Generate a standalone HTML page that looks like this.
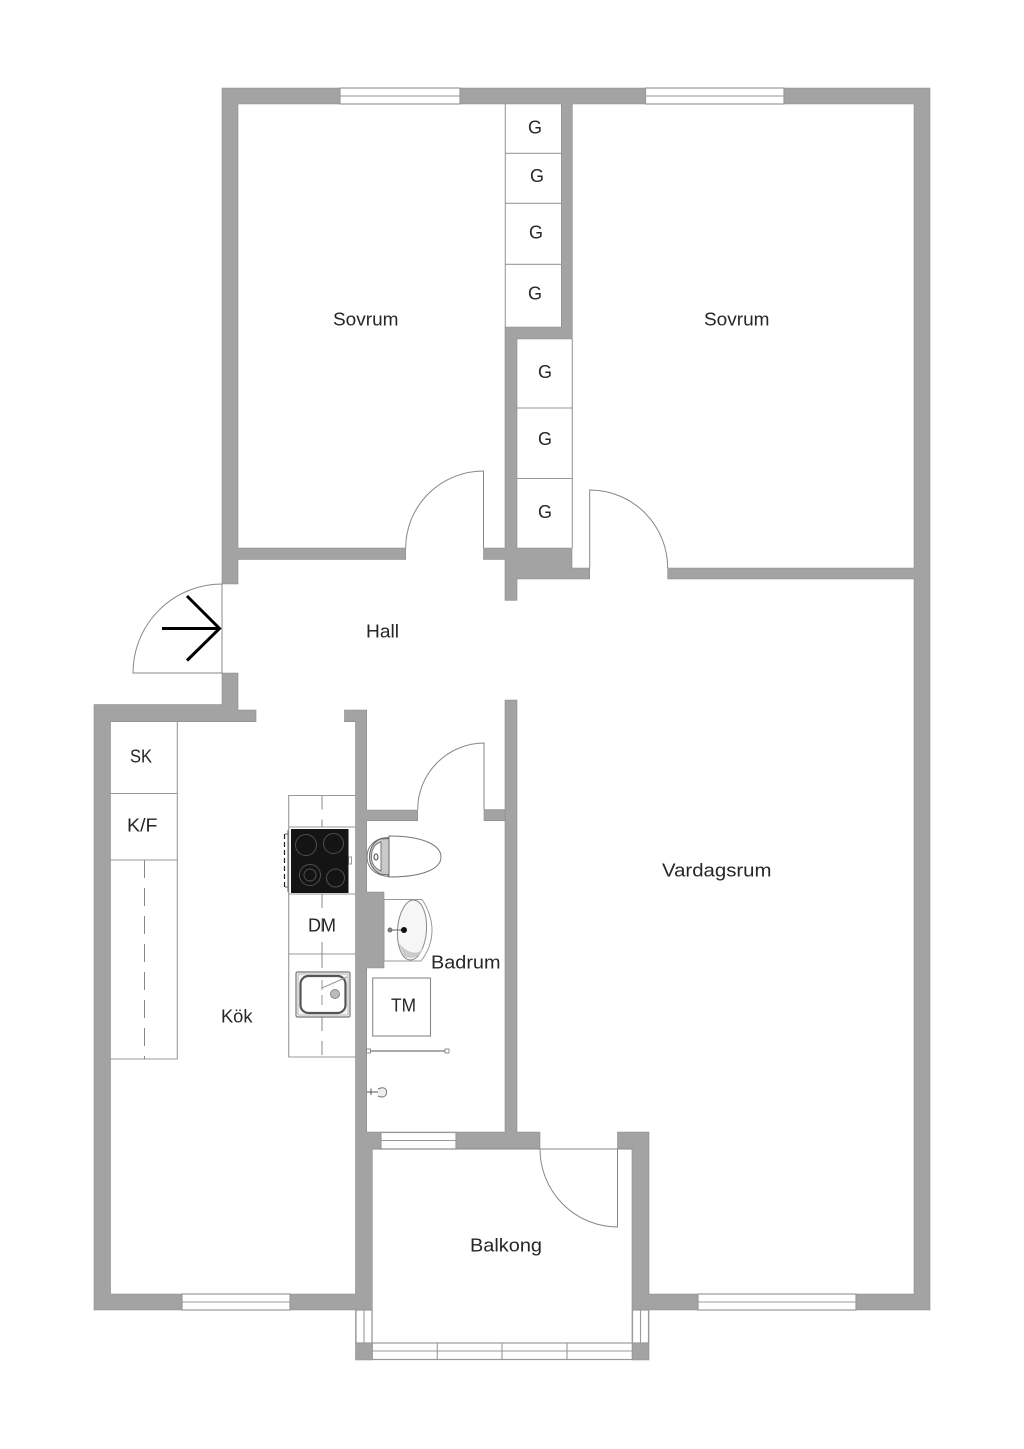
<!DOCTYPE html>
<html><head><meta charset="utf-8"><style>
html,body{margin:0;padding:0;background:#fff}
svg{display:block}
text{font-family:"Liberation Sans",sans-serif;font-size:18px;fill:#262626}
.w{fill:#a3a3a3;stroke:#8c8c8c;stroke-width:.6}
.l{fill:none;stroke:#999;stroke-width:1.1}
.d{fill:none;stroke:#888;stroke-width:1}
.win{fill:#fff;stroke:#999;stroke-width:1.2}
</style></head><body>
<svg xmlns="http://www.w3.org/2000/svg" width="1024" height="1449" viewBox="0 0 1024 1449">
<rect width="1024" height="1449" fill="#fff"/>

<!-- walls -->
<path class="w" d="M222 88H930V1310H856V1294H914V579H667.7V568H914V104H572.3V339H517V548H572V568H589.7V579H517V600.3H505V559.5H483.5V548H505V327H561.3V104H238V548H405.7V559.5H238V584H222Z"/>
<path class="w" d="M222 673H238V710H256V721.7H110.5V1294H182V1310H94V704.5H222Z"/>
<path class="w" d="M344.5 710H366.7V810H417.7V820.7H366.7V892H384V968H366.7V1132H505V700H517V1132H540V1149H372.3V1360H355.5V1310H290V1294H355.5V721.7H344.5Z"/>
<path class="w" d="M484 809.5H505V820.7H484Z"/>
<path class="w" d="M617.5 1132H649V1294H698V1310H649V1360H632V1149H617.5Z"/>

<!-- windows -->
<g class="win">
<rect x="340" y="88" width="120" height="16"/><rect x="645.5" y="88" width="138.5" height="16"/>
<rect x="182" y="1294" width="108" height="16"/><rect x="698" y="1294" width="158" height="16"/>
<rect x="381" y="1132.5" width="75" height="16.5"/>
<rect x="356" y="1310" width="16" height="33"/><rect x="632.5" y="1310" width="16" height="33"/>
<rect x="372.3" y="1343" width="260" height="16.5"/>
</g>
<path class="l" d="M340 96H460M645.5 96H784M182 1302H290M698 1302H856M381 1140.5H456M364 1310V1343M640.5 1310V1343M372.3 1351H632M437.3 1343V1359.5M502 1343V1359.5M567 1343V1359.5"/>

<!-- closets -->
<path class="l" d="M505.3 104V327M505.5 153.3H561.3M505.5 203.3H561.3M505.5 264.3H561.3M572.3 339V548M517 408H572M517 478.5H572"/>

<!-- doors -->
<path class="d" d="M483.5 548V471A78 77 0 0 0 405.7 548M589.7 568V490A78 78 0 0 1 667.7 568M484 809.5V743A67 66.5 0 0 0 417.7 809.5M222 584V673H133A89 89 0 0 1 222 584M372.3 1149H632M540 1149A78 78 0 0 0 617.5 1227V1149"/>

<!-- entrance arrow -->
<path d="M162 628.5H219M187 596L219.5 628.5L187 660.5" fill="none" stroke="#000" stroke-width="3"/>

<!-- kitchen storage -->
<path class="l" d="M177.3 721.7V1059H110.5M110.5 793.5H177.3M110.5 860H177.3"/>
<path class="d" d="M144.5 860V1059" stroke-dasharray="18 10"/>

<!-- counter -->
<path class="l" d="M355.5 795.5H288.7V1057H355.5M288.7 827H355.5M288.7 894H355.5M288.7 954H355.5"/>
<path class="d" d="M322 795.5V827M322 894V954" stroke-dasharray="14 10"/>
<path class="d" d="M322 954V972M322 1017V1057" stroke-dasharray="14 10"/>

<!-- stove -->
<path d="M285 834H288V887H285M288 830V892" fill="none" stroke="#666" stroke-width="1"/>
<path d="M284.5 834V888" stroke="#222" stroke-width="1.2" stroke-dasharray="5 3"/>
<rect x="348.5" y="857" width="3" height="7" fill="#fff" stroke="#999"/>
<rect x="291" y="829" width="57.5" height="64" fill="#141414"/>
<g fill="none" stroke="#4e4e4e" stroke-width="1">
<circle cx="306" cy="845" r="10.5"/><circle cx="333.5" cy="843.5" r="10"/>
<circle cx="310" cy="875" r="10.5"/><circle cx="310" cy="875" r="6"/><circle cx="335.5" cy="878" r="9"/>
</g>

<!-- sink -->
<rect x="296" y="972" width="54" height="45" rx="1.5" fill="#f4f4f4" stroke="#777" stroke-width="1.2"/>
<rect x="298" y="974" width="50" height="41" rx="1" fill="none" stroke="#aaa" stroke-width=".8"/>
<rect x="300.5" y="976" width="45" height="37" rx="8" fill="#fff" stroke="#555" stroke-width="2.2"/>
<path d="M322 988L347 977" stroke="#999" stroke-width="1"/>
<path d="M322 980V1010" stroke="#999" stroke-width="1" stroke-dasharray="10 5"/>
<circle cx="335" cy="994" r="4.5" fill="#bbb" stroke="#888"/>

<!-- toilet -->
<path d="M389 836C425 836 441 846 441 857C441 868 425 877 389 877Z" fill="#fff" stroke="#777"/>
<path d="M388 837.5C375 838 367 846 367 857C367 868 375 875 388 876.5Z" fill="#fff" stroke="#777"/>
<path d="M389 838.5L380 839C373 842 369.5 849 369.5 857C369.5 864 373 870 380 874L389 875Z" fill="#c9c9c9" stroke="#666"/>
<path d="M381 842C374 844 371.5 850 371.5 857C371.5 863 374 868 381 871Z" fill="#fff" stroke="#777"/>
<ellipse cx="376" cy="857" rx="2" ry="3" fill="#fff" stroke="#444"/>

<!-- basin -->
<path d="M384 899.5H422C428 908 432 920 432 930C432 941 428 952 421 961H384Z" fill="#fff" stroke="#999"/>
<ellipse cx="412" cy="930" rx="14.5" ry="30" transform="rotate(4 412 930)" fill="#f6f6f6" stroke="#888"/>
<path d="M398 942C404 950 416 958 423 948C420 958 410 960 404 956Z" fill="#ccc"/>
<path d="M390 930H404" stroke="#777" stroke-width="1.2"/>
<circle cx="390" cy="930" r="2.5" fill="#777"/><circle cx="404" cy="930" r="3" fill="#111"/>

<!-- TM -->
<rect x="372.7" y="978" width="57.8" height="58" fill="#fff" stroke="#888" stroke-width="1.1"/>

<!-- shower rail -->
<path d="M368 1051H446" stroke="#777" stroke-width="1.3"/>
<rect x="366.5" y="1049" width="4" height="4" fill="#fff" stroke="#777" stroke-width=".8"/>
<rect x="445" y="1049" width="4" height="4" fill="#fff" stroke="#777" stroke-width=".8"/>

<!-- shower head -->
<path d="M367 1092H381M371 1088.5V1095" stroke="#555" stroke-width="1"/>
<path d="M378 1089C384 1086 387 1089 386.5 1093C386 1097 382 1098 378 1096" fill="#eee" stroke="#777"/>

<!-- labels -->
<text x="333" y="325.5" textLength="65.5" lengthAdjust="spacingAndGlyphs">Sovrum</text>
<text x="704" y="325.5" textLength="65.5" lengthAdjust="spacingAndGlyphs">Sovrum</text>
<text x="366" y="637.5" textLength="33" lengthAdjust="spacingAndGlyphs">Hall</text>
<text x="662" y="876.5" textLength="109.5" lengthAdjust="spacingAndGlyphs">Vardagsrum</text>
<text x="221" y="1022.5" textLength="31.5" lengthAdjust="spacingAndGlyphs">Kök</text>
<text x="431" y="968.5" textLength="69.5" lengthAdjust="spacingAndGlyphs">Badrum</text>
<text x="470" y="1251.5" textLength="72" lengthAdjust="spacingAndGlyphs">Balkong</text>
<text x="308" y="931.5" textLength="28" lengthAdjust="spacingAndGlyphs">DM</text>
<text x="391" y="1011.5" textLength="25" lengthAdjust="spacingAndGlyphs">TM</text>
<text x="130" y="762.5" textLength="22" lengthAdjust="spacingAndGlyphs">SK</text>
<text x="127" y="831.5" textLength="30.5" lengthAdjust="spacingAndGlyphs">K/F</text>
<text x="528" y="133.5">G</text>
<text x="530" y="182">G</text>
<text x="529" y="238.5">G</text>
<text x="528" y="299.5">G</text>
<text x="538" y="378">G</text>
<text x="538" y="445">G</text>
<text x="538" y="518">G</text>
</svg>
</body></html>
